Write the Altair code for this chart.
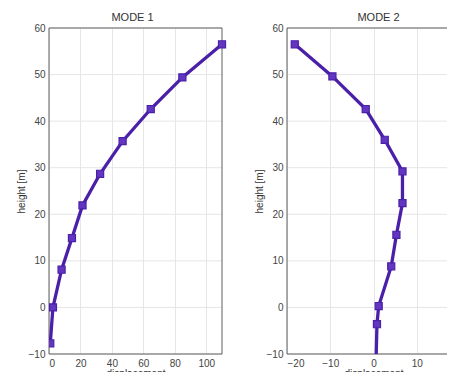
import altair as alt
import pandas as pd

# ---- data ----
m1_disp = [0.8, 2.5, 8.0, 14.6, 21.3, 32.5, 46.8, 64.7, 84.8, 110.0]
m1_height = [-7.7, 0.0, 8.1, 14.9, 21.9, 28.7, 35.7, 42.6, 49.4, 56.5]
m2_disp = [0.5, 0.8, 1.2, 4.1, 5.3, 6.7, 6.7, 2.6, -1.8, -9.5, -18.2]
m2_height = [-15.0, -3.6, 0.3, 8.8, 15.6, 22.4, 29.2, 36.0, 42.6, 49.6, 56.5]

titles = ["MODE 1", "MODE 2"]
m1_xdomain = [0, 110]
m2_xdomain = [-20, 20]
m1_xticks = [0, 20, 40, 60, 80, 100]
m2_xticks = [-20, -10, 0, 10, 20]
ydomain = [-10, 60]
yticks = [-10, 0, 10, 20, 30, 40, 50, 60]

LINE = "#4B20A8"
FILL = "#6236C0"
FONT = "Liberation Sans"
GRID = "#e6e6e6"
BORDER = "#5f5f5f"

PANEL_W = 173
GAP = 65
VIEW_W = 398
VIEW_H = 326


def panel(disp, height, title, xdom, xticks, x0, ydx_offset, title_dx):
    xscale = alt.Scale(domain=xdom, range=[x0, x0 + PANEL_W], nice=False, zero=False)
    yscale = alt.Scale(domain=ydomain, nice=False, zero=False)
    xaxis = alt.Axis(values=xticks, title="displacement", grid=True, orient="bottom")
    yaxis = alt.Axis(values=yticks, title="height [m]", grid=False, orient="left",
                     offset=ydx_offset)
    X = alt.X("disp:Q", scale=xscale, axis=xaxis)
    Y = alt.Y("h:Q", scale=yscale, axis=yaxis)

    df = pd.DataFrame({"disp": disp, "h": height, "order": range(len(disp))})
    grid_df = pd.DataFrame({"h": yticks, "disp": [xdom[0]] * len(yticks),
                            "disp2": [xdom[1]] * len(yticks)})
    box_df = pd.DataFrame({"disp": [xdom[0]], "disp2": [xdom[1]],
                           "h": [ydomain[0]], "h2": [ydomain[1]]})
    title_df = pd.DataFrame({"disp": [(xdom[0] + xdom[1]) / 2], "t": [title]})

    grid = alt.Chart(grid_df).mark_rule(color=GRID, strokeWidth=1).encode(
        x=X, x2="disp2:Q", y=Y)
    box = alt.Chart(box_df).mark_rect(fillOpacity=0, stroke=BORDER, strokeWidth=1).encode(
        x=X, x2="disp2:Q", y=Y, y2="h2:Q")
    base = alt.Chart(df).encode(x=X, y=Y, order="order:Q")
    line = base.mark_line(color=LINE, strokeWidth=3.3, clip=True)
    pts = base.mark_point(shape="square", size=50, filled=True, fill=FILL,
                          stroke=LINE, strokeWidth=1.2, opacity=1, clip=True)
    ttl = alt.Chart(title_df).mark_text(
        font=FONT, fontSize=11, color="#333333", baseline="middle", dx=title_dx
    ).encode(x=X, y=alt.value(-10), text="t:N")
    return alt.layer(grid, box, line, pts, ttl)


p1 = panel(m1_disp, m1_height, titles[0], m1_xdomain, m1_xticks, 0, 0, -3)
p2 = panel(m2_disp, m2_height, titles[1], m2_xdomain, m2_xticks,
           PANEL_W + GAP, -(PANEL_W + GAP), 5)

chart = alt.layer(p1, p2).resolve_scale(
    x="independent", y="independent"
).resolve_axis(
    x="independent", y="independent"
).properties(
    width=VIEW_W, height=VIEW_H,
    autosize=alt.AutoSizeParams(type="none"),
    padding={"left": 41, "top": 20, "right": 0, "bottom": 18},
).configure_view(
    stroke=None
).configure_axis(
    labelFont=FONT, titleFont=FONT, labelFontSize=10, titleFontSize=10,
    labelColor="#444444", titleColor="#333333", titleFontWeight="normal",
    domain=False, ticks=False, gridColor=GRID, gridWidth=1,
    labelPadding=4, titlePadding=2,
).configure_axisX(labelPadding=4, titlePadding=0)

chart.save("out.html", embed_options={"renderer": "svg", "actions": False})
